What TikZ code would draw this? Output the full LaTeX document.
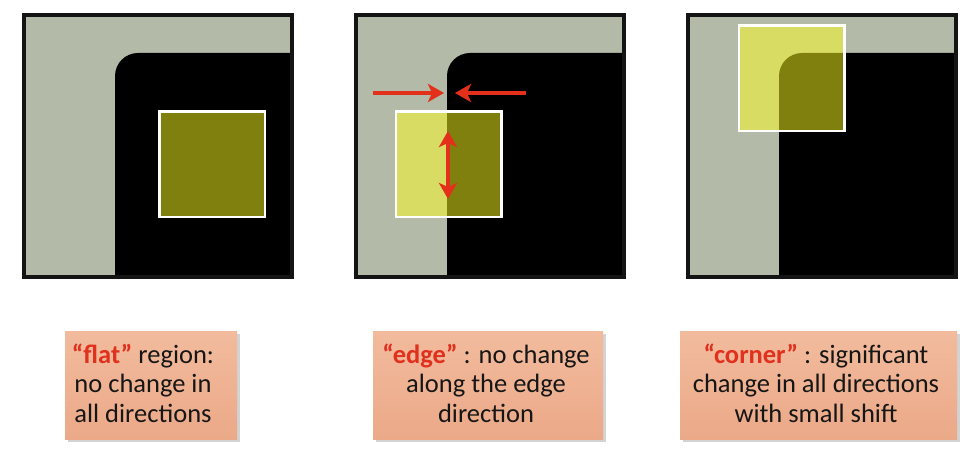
\documentclass[tikz,border=0pt]{standalone}
\usepackage{fontspec}
\setmainfont{Carlito}
\usetikzlibrary{arrows.meta,positioning,shadows}
\definecolor{panelgray}{HTML}{B4BAA8}
\definecolor{winyellow}{HTML}{FFFF1E}
\definecolor{arrowred}{HTML}{E2301A}
\definecolor{labelred}{HTML}{E0301E}
\definecolor{boxtop}{HTML}{F2BB9D}
\definecolor{boxbot}{HTML}{EBA988}
\definecolor{textdark}{HTML}{161616}
\newcommand\kw[1]{\textbf{\color{labelred}#1}}

\begin{document}
\begin{tikzpicture}[x=1pt, y=-1pt,
  window/.style={draw=white, line width=2.5pt, fill=winyellow, fill opacity=0.5,
                 draw opacity=1, minimum size=105.5pt, inner sep=0pt},
  redtip/.tip={Stealth[length=16pt, width=18pt, inset=4pt]},
  redarrow/.style={arrowred, line width=4pt, -redtip},
  labelbox/.style={rectangle, top color=boxtop, bottom color=boxbot, minimum height=107pt,
                   drop shadow={shadow xshift=2.5pt, shadow yshift=-2.5pt, opacity=0.35}},
  labeltext/.style={align=center, text=textdark, font=\fontsize{26.5}{29.5}\selectfont},
]
\useasboundingbox (0,0) rectangle (980,454);

% the three image patches
\foreach \px in {22,354,686} {
  \fill[panelgray] (\px+2,15) rectangle (\px+270,277);
  \begin{scope}
    \clip (\px+2,15) rectangle (\px+270,277);
    \fill[black, rounded corners=23pt] (\px+93,53) rectangle (\px+330,330);
  \end{scope}
  \draw[line width=4pt, black!92] (\px+2,15) rectangle (\px+270,277);
}

% sliding windows
\node[window] (flatwin) at (212,164.5) {};
\node[window] (edgewin) at (448.5,164.5) {};
\node[window] (cornerwin) at (791.5,78.5) {};

% shifts for the edge case
\coordinate (leftstart) at (373,93);
\coordinate (lefttip) at (444,93);
\coordinate (rightstart) at (526,93);
\coordinate (righttip) at (455,93);
\coordinate (uptip) at (448,131);
\coordinate (downtip) at (448,199);
\draw[redarrow] (leftstart) -- (lefttip);
\draw[redarrow] (rightstart) -- (righttip);
\draw[redarrow, redtip-redtip] (uptip) -- (downtip);

% captions
\node[labelbox, minimum width=172pt] (flatbox) at (151,385.5) {};
\node[labelbox, minimum width=230pt] (edgebox) at (488,385.5) {};
\node[labelbox, minimum width=277pt] (cornerbox) at (818.5,385.5) {};

\node[labeltext] (flattext) at (143,383) {\kw{“flat”} region:\\no change in\\all directions};
\node[labeltext] (edgetext) at (486,383) {\kw{“edge”} : no change\\along the edge\\direction};
\node[labeltext] (cornertext) at (816,383) {\kw{“corner”} : significant\\change in all directions\\with small shift};

\end{tikzpicture}
\end{document}
